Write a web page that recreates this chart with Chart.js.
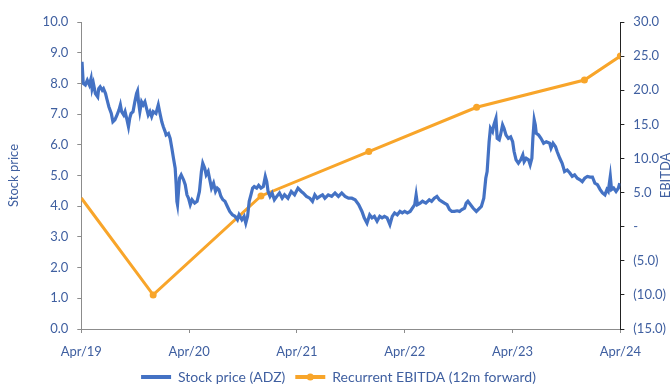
<!DOCTYPE html>
<html>
<head>
<meta charset="utf-8">
<script src="https://cdn.jsdelivr.net/npm/chart.js@4/dist/chart.umd.min.js"></script>
<style>
  html, body { margin: 0; padding: 0; background: #fff; }
  #wrap { width: 672px; height: 385px; }
</style>
</head>
<body>
<div id="wrap"><canvas id="myChart" width="672" height="385"></canvas></div>
<script>
// months since Apr/19
const stockMonths = [
  0.0, 0.08, 0.22, 0.45, 0.67, 0.9, 1.09, 1.2, 1.35, 1.57, 1.83, 1.94, 2.1, 2.33, 2.47, 2.7, 2.84,
  3.07, 3.34, 3.52, 3.74, 3.97, 4.19, 4.35, 4.49, 4.72, 4.87, 5.09, 5.25, 5.39, 5.54, 5.76, 5.96,
  6.15, 6.26, 6.37, 6.52, 6.71, 6.89, 7.08, 7.27, 7.45, 7.64, 7.83, 8.01, 8.31, 8.57, 8.76, 8.96,
  9.13, 9.33, 9.44, 9.7, 9.89, 10.08, 10.26, 10.45, 10.56, 10.64, 10.71, 10.82, 10.93, 11.12, 11.38,
  11.57, 11.76, 11.94, 12.13, 12.33, 12.62, 12.89, 13.15, 13.37, 13.52, 13.74, 13.9, 14.12, 14.27,
  14.49, 14.72, 14.94, 15.13, 15.31, 15.54, 15.76, 15.99, 16.26, 16.52, 16.82, 17.11, 17.38, 17.56,
  17.87, 18.12, 18.31, 18.51, 18.69, 18.88, 19.07, 19.25, 19.52, 19.74, 20.0, 20.26, 20.48, 20.64,
  20.79, 21.01, 21.24, 21.49, 21.76, 22.06, 22.36, 22.62, 23.0, 23.37, 23.74, 24.12, 24.49, 24.69,
  25.06, 25.43, 25.73, 25.99, 26.26, 26.55, 26.85, 27.11, 27.49, 27.87, 28.24, 28.62, 28.99, 29.36,
  29.74, 30.11, 30.48, 30.87, 31.24, 31.49, 31.8, 32.1, 32.36, 32.62, 32.92, 33.22, 33.48, 33.74,
  34.04, 34.35, 34.61, 34.87, 35.17, 35.47, 35.73, 35.99, 36.29, 36.6, 36.85, 37.11, 37.27, 37.42,
  37.72, 37.98, 38.35, 38.73, 38.99, 39.29, 39.58, 39.85, 40.11, 40.42, 40.71, 40.98, 41.24, 41.54,
  41.83, 42.1, 42.36, 42.66, 42.84, 43.03, 43.6, 43.97, 44.53, 44.8, 45.02, 45.17, 45.39, 45.54,
  45.77, 45.92, 46.15, 46.29, 46.52, 46.66, 46.89, 47.05, 47.27, 47.53, 47.79, 48.01, 48.17, 48.39,
  48.65, 48.91, 49.14, 49.29, 49.52, 49.78, 49.96, 50.15, 50.26, 50.41, 50.53, 50.64, 50.9, 51.16,
  51.46, 51.76, 52.13, 52.28, 52.51, 52.78, 52.96, 53.26, 53.52, 53.79, 54.08, 54.38, 54.64, 54.91,
  55.2, 55.51, 55.76, 56.03, 56.33, 56.63, 56.89, 57.16, 57.45, 57.75, 58.01, 58.28, 58.5, 58.65,
  58.88, 59.02, 59.25, 59.52, 59.78, 59.93
]
const stockPrice = [
  8.45, 8.7, 8.0, 7.95, 8.1, 7.95, 8.16, 7.83, 8.0, 7.67, 7.56, 7.83, 7.89, 7.78, 7.83, 7.67, 7.5,
  7.24, 7.02, 6.75, 6.81, 6.97, 7.13, 7.3, 7.08, 6.97, 7.08, 6.81, 6.59, 6.86, 7.02, 7.08, 7.4,
  7.67, 7.75, 7.4, 7.08, 7.4, 7.3, 7.4, 7.18, 6.97, 7.08, 6.92, 7.08, 7.02, 7.3, 7.02, 6.75,
  6.59, 6.43, 6.32, 6.37, 6.21, 5.89, 5.56, 5.24, 4.7, 4.16, 4.05, 4.48, 4.91, 5.02, 4.86,
  4.7, 4.37, 4.26, 4.05, 4.21, 4.1, 4.16, 4.48, 5.13, 5.4, 5.24, 5.02, 5.13, 4.91,
  4.59, 4.75, 4.48, 4.59, 4.54, 4.32, 4.21, 4.16, 3.99, 3.83, 3.72, 3.67, 3.56, 3.72,
  3.56, 3.67, 3.45, 3.67, 4.16, 4.37, 4.59, 4.64, 4.59, 4.68, 4.59, 4.64, 4.97, 4.8,
  4.48, 4.32, 4.43, 4.21, 4.32, 4.43, 4.26, 4.37, 4.26, 4.48, 4.37, 4.59, 4.48, 4.43,
  4.32, 4.26, 4.16, 4.37, 4.26, 4.32, 4.37, 4.26, 4.37, 4.32, 4.43, 4.32, 4.43, 4.32,
  4.26, 4.26, 4.21, 4.05, 3.83, 3.62, 3.45, 3.72, 3.62, 3.67, 3.51, 3.67, 3.62, 3.67,
  3.62, 3.4, 3.67, 3.78, 3.72, 3.83, 3.78, 3.83, 3.78, 3.83, 3.94, 4.05, 4.37, 4.05,
  4.1, 4.16, 4.1, 4.21, 4.16, 4.26, 4.32, 4.21, 4.16, 4.1, 4.05, 3.89, 3.83, 3.83,
  3.85, 3.83, 3.89, 3.94, 4.1, 4.16, 3.94, 3.83, 3.99, 4.26, 4.91, 5.13, 6.1, 6.54,
  6.43, 6.65, 6.86, 6.21, 6.16, 6.32, 6.65, 6.54, 6.32, 6.21, 6.26, 6.1, 5.78, 5.51,
  5.4, 5.51, 5.67, 5.45, 5.56, 5.51, 5.35, 5.56, 6.21, 6.81, 6.65, 6.37, 6.32, 6.21,
  6.05, 6.1, 6.05, 5.89, 6.05, 5.94, 5.78, 5.56, 5.4, 5.13, 5.18, 5.08, 4.97, 5.02,
  4.91, 4.86, 4.8, 4.91, 4.97, 4.95, 4.95, 4.75, 4.7, 4.54, 4.43, 4.37, 4.54, 4.48,
  4.97, 4.54, 4.59, 4.48, 4.59, 4.75
]

const ebitdaMonths = [0, 8, 20, 32, 44, 56, 60]
const ebitdaValues = [4.2, -10.0, 4.5, 11.0, 17.5, 21.5, 25.0]

const xTickLabels = ['Apr/19', 'Apr/20', 'Apr/21', 'Apr/22', 'Apr/23', 'Apr/24']

const textColor = '#3f5fa0'
const blue = '#4472c4'
const orange = '#f8a52a'
const font = { family: 'Lato', size: 13 }

// orange legend marker + right axis title reading upwards
const extras = {
  id: 'extras',
  afterDraw(chart) {
    const c = chart.ctx
    const boxes = chart.legend.legendHitBoxes
    if (boxes && boxes[1]) {
      const b = boxes[1]
      c.save()
      c.fillStyle = orange
      c.beginPath()
      c.arc(b.left + 15, b.top + b.height / 2, 3.5, 0, Math.PI * 2)
      c.fill()
      c.restore()
    }
    c.save()
    c.translate(chart.width - 6, (chart.scales.y1.top + chart.scales.y1.bottom) / 2)
    c.rotate(-Math.PI / 2)
    c.fillStyle = textColor
    c.font = '13px Lato'
    c.textAlign = 'center'
    c.textBaseline = 'middle'
    c.fillText('EBITDA', 0, 0)
    c.restore()
  }
}

const ctx = document.getElementById('myChart').getContext('2d')
const chart = new Chart(ctx, {
  type: 'line',
  data: {
    datasets: [{
      label: 'Stock price (ADZ)',
      data: stockMonths.map((m, i) => ({ x: m, y: stockPrice[i] })),
      borderColor: blue,
      backgroundColor: blue,
      borderWidth: 3.2,
      pointRadius: 0,
      tension: 0,
      yAxisID: 'y'
    }, {
      label: 'Recurrent EBITDA (12m forward)',
      data: ebitdaMonths.map((m, i) => ({ x: m, y: ebitdaValues[i] })),
      borderColor: orange,
      backgroundColor: orange,
      borderWidth: 3,
      pointRadius: ebitdaMonths.map(m => m === 0 ? 0 : 3.5),
      pointBackgroundColor: orange,
      pointBorderWidth: 0,
      tension: 0,
      yAxisID: 'y1'
    }]
  },
  options: {
    responsive: false,
    animation: false,
    layout: { padding: { left: 2, right: -3, top: 22, bottom: -9 } },
    plugins: {
      legend: {
        position: 'bottom',
        labels: {
          color: textColor,
          font: { family: 'Lato', size: 14 },
          boxWidth: 30,
          boxHeight: 4,
          padding: 10,
          generateLabels(chart) {
            return chart.data.datasets.map((d, i) => ({
              text: d.label,
              fillStyle: d.borderColor,
              strokeStyle: d.borderColor,
              lineWidth: 0,
              fontColor: textColor,
              datasetIndex: i
            }))
          }
        }
      },
      tooltip: { enabled: false }
    },
    scales: {
      x: {
        type: 'linear',
        min: 0,
        max: 60,
        ticks: {
          stepSize: 12,
          color: textColor,
          font: font,
          padding: 11,
          maxRotation: 0,
          callback: v => xTickLabels[v / 12]
        },
        afterFit: s => { s.height = 31 },
        grid: { drawOnChartArea: false, drawTicks: true, tickLength: 4, color: '#8c8c8c' },
        border: { color: '#8c8c8c', width: 1 }
      },
      y: {
        position: 'left',
        min: 0,
        max: 10,
        ticks: { stepSize: 1, color: textColor, font: font, padding: 9, callback: v => v.toFixed(1) },
        title: { display: true, text: 'Stock price', color: textColor, font: font, padding: { top: 4, bottom: 12 } },
        grid: { drawOnChartArea: false, drawTicks: true, tickLength: 4, color: '#8c8c8c' },
        border: { color: '#8c8c8c', width: 1 }
      },
      y1: {
        position: 'right',
        min: -15,
        max: 30,
        ticks: {
          stepSize: 5,
          color: textColor,
          font: font,
          padding: 9,
          callback: v => v === 0 ? '-' : (v < 0 ? '(' + (-v).toFixed(1) + ')' : v.toFixed(1))
        },
        grid: { drawOnChartArea: false, drawTicks: true, tickLength: 4, color: '#222' },
        border: { color: '#222', width: 1 }
      }
    }
  },
  plugins: [extras]
})
</script>
</body>
</html>
